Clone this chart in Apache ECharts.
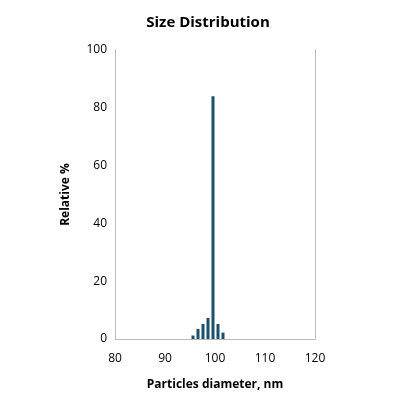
<!DOCTYPE html><html><head><script src="https://cdn.jsdelivr.net/npm/echarts@6/dist/echarts.min.js"></script></head><body style="margin:0"><div id="c" style="width:416px;height:402px"></div><script>
const diameters=[96,97,98,99,100,101,102];
const relative=[1.2,3.5,5.2,7.3,84,5.2,2.2];
const ch=echarts.init(document.getElementById('c'));
const txt={color:'#000',fontFamily:'Open Sans',fontSize:12};
ch.setOption({title:{text:'Size Distribution',left:'center',top:4,textStyle:{fontFamily:'Open Sans',fontWeight:'bold',fontSize:15,color:'#000'}},
grid:{left:115,right:101,top:50,bottom:63},
xAxis:{type:'value',min:80,max:120,interval:10,name:'Particles diameter, nm',nameLocation:'middle',nameGap:34,nameTextStyle:{...txt,fontWeight:'bold'},axisLabel:{...txt,margin:10},axisLine:{lineStyle:{color:'#bbb'}},axisTick:{show:false},splitLine:{show:false}},
yAxis:[{type:'value',min:0,max:100,interval:20,name:'Relative %',nameLocation:'middle',nameGap:38,nameTextStyle:{...txt,fontWeight:'bold'},axisLabel:{...txt},axisLine:{show:true,lineStyle:{color:'#bbb'}},axisTick:{show:false},splitLine:{show:false}},
{type:'value',min:0,max:100,position:'right',axisLabel:{show:false},axisLine:{show:true,lineStyle:{color:'#bbb'}},axisTick:{show:false},splitLine:{show:false}}],
series:[{type:'bar',barWidth:3,data:diameters.map((d,i)=>[d-0.4,relative[i]]),itemStyle:{color:'#1a4f6e'}}]});
</script></body></html>
